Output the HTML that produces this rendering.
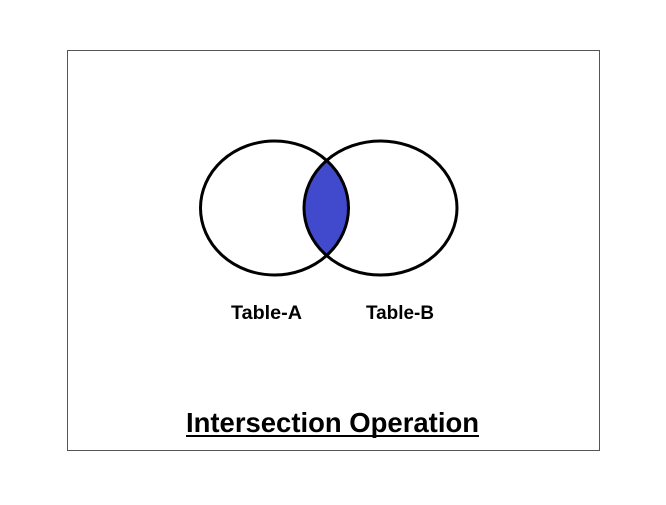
<!DOCTYPE html>
<html><head><meta charset="utf-8"><style>html,body{margin:0;padding:0;background:#fff}</style></head>
<body>
<svg width="666" height="500" viewBox="0 0 666 500" xmlns="http://www.w3.org/2000/svg">
<rect x="0" y="0" width="666" height="500" fill="#fff"/>
<rect x="67.5" y="50.5" width="532" height="400" fill="none" stroke="#555" stroke-width="1"/>
<path d="M327,161 A74,67 0 0 1 327,255 A76.5,67 0 0 1 327,161 Z" fill="#4149cc"/>
<ellipse cx="274.5" cy="208" rx="74" ry="67" fill="none" stroke="#000" stroke-width="3"/>
<ellipse cx="380.5" cy="208" rx="76.5" ry="67" fill="none" stroke="#000" stroke-width="3"/>
<text x="231" y="319" textLength="71" lengthAdjust="spacingAndGlyphs" font-family="Liberation Sans, sans-serif" font-weight="bold" font-size="19">Table-A</text>
<text x="366" y="319" textLength="68" lengthAdjust="spacingAndGlyphs" font-family="Liberation Sans, sans-serif" font-weight="bold" font-size="19">Table-B</text>
<text x="186" y="432" textLength="293" lengthAdjust="spacingAndGlyphs" font-family="Liberation Sans, sans-serif" font-weight="bold" font-size="28">Intersection Operation</text>
<rect x="186" y="435" width="293" height="2" fill="#000"/>
</svg>
</body></html>
